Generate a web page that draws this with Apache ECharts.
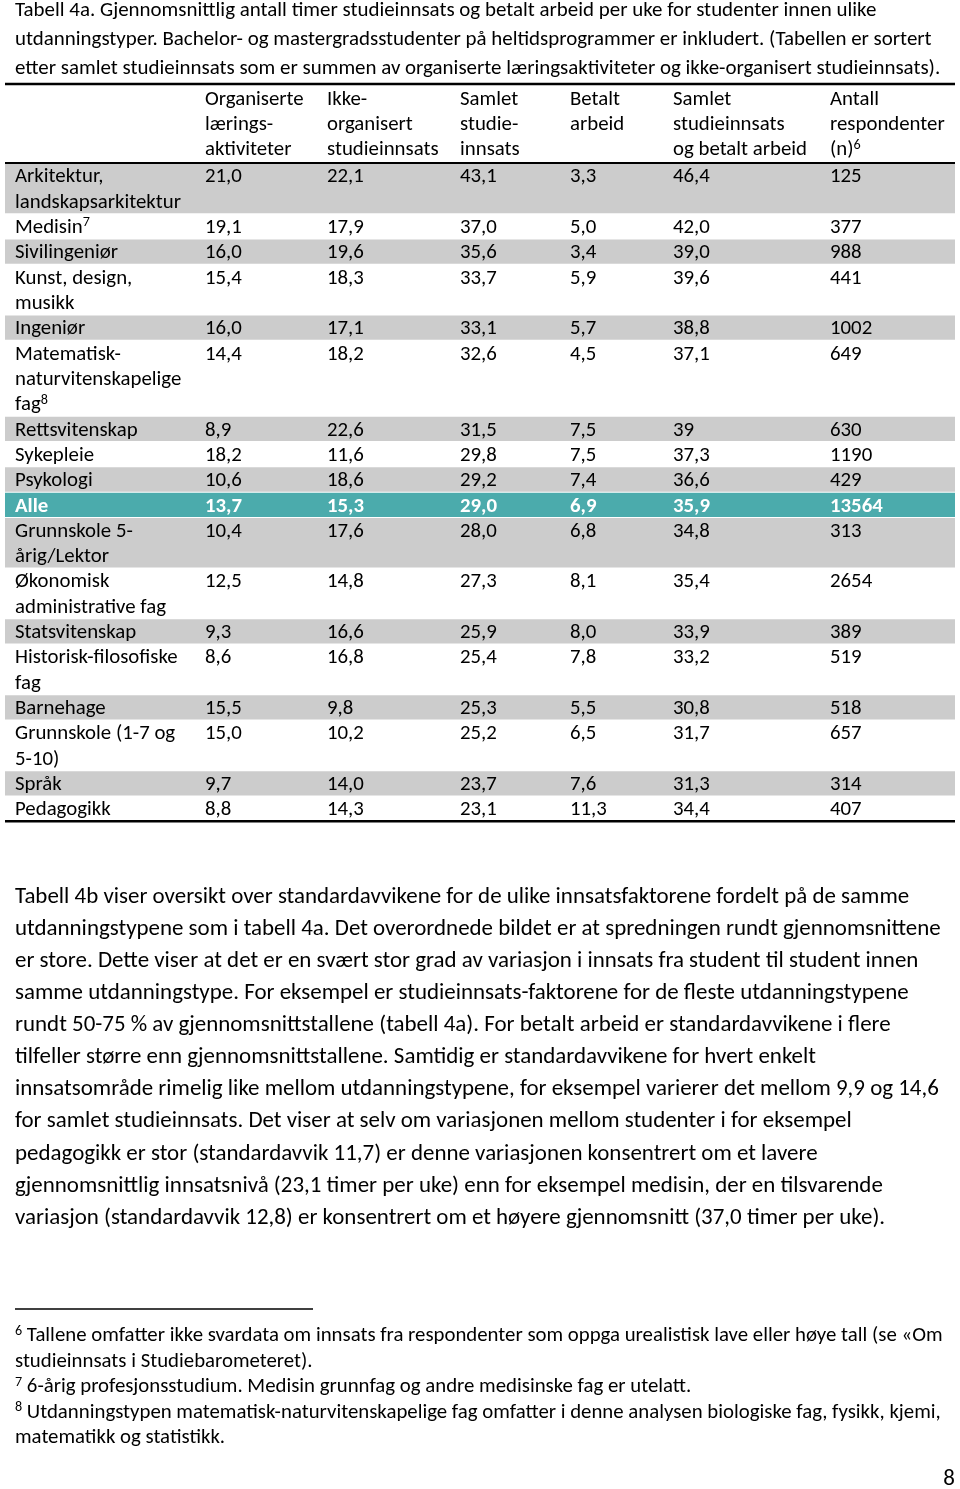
<!DOCTYPE html>
<html><head><meta charset="utf-8">
<script src="https://cdn.jsdelivr.net/npm/echarts@6.0.0/dist/echarts.min.js"></script>
<style>html,body{margin:0;padding:0;background:#fff;}#chart{width:960px;height:1489px;}</style>
</head><body><div id="chart"></div>
<script>
// ---------------- data ----------------
const captionLines = [
  'Tabell 4a. Gjennomsnittlig antall timer studieinnsats og betalt arbeid per uke for studenter innen ulike',
  'utdanningstyper. Bachelor- og mastergradsstudenter på heltidsprogrammer er inkludert. (Tabellen er sortert',
  'etter samlet studieinnsats som er summen av organiserte læringsaktiviteter og ikke-organisert studieinnsats).'
];
const columnHeaders = [
  [],
  ['Organiserte', 'lærings-', 'aktiviteter'],
  ['Ikke-', 'organisert', 'studieinnsats'],
  ['Samlet', 'studie-', 'innsats'],
  ['Betalt', 'arbeid'],
  ['Samlet', 'studieinnsats', 'og betalt arbeid'],
  ['Antall', 'respondenter', '(n){s|6}']
];
const categories = [
  ['Arkitektur,', 'landskapsarkitektur'],
  ['Medisin{s|7}'],
  ['Sivilingeniør'],
  ['Kunst, design,', 'musikk'],
  ['Ingeniør'],
  ['Matematisk-', 'naturvitenskapelige', 'fag{s|8}'],
  ['Rettsvitenskap'],
  ['Sykepleie'],
  ['Psykologi'],
  ['Alle'],
  ['Grunnskole 5-', 'årig/Lektor'],
  ['Økonomisk', 'administrative fag'],
  ['Statsvitenskap'],
  ['Historisk-filosofiske', 'fag'],
  ['Barnehage'],
  ['Grunnskole (1-7 og', '5-10)'],
  ['Språk'],
  ['Pedagogikk']
];
const organiserte   = [21.0, 19.1, 16.0, 15.4, 16.0, 14.4, 8.9, 18.2, 10.6, 13.7, 10.4, 12.5, 9.3, 8.6, 15.5, 15.0, 9.7, 8.8];
const ikkeOrganisert = [22.1, 17.9, 19.6, 18.3, 17.1, 18.2, 22.6, 11.6, 18.6, 15.3, 17.6, 14.8, 16.6, 16.8, 9.8, 10.2, 14.0, 14.3];
const samletStudie  = [43.1, 37.0, 35.6, 33.7, 33.1, 32.6, 31.5, 29.8, 29.2, 29.0, 28.0, 27.3, 25.9, 25.4, 25.3, 25.2, 23.7, 23.1];
const betaltArbeid  = [3.3, 5.0, 3.4, 5.9, 5.7, 4.5, 7.5, 7.5, 7.4, 6.9, 6.8, 8.1, 8.0, 7.8, 5.5, 6.5, 7.6, 11.3];
const samletTotal   = [46.4, 42.0, 39.0, 39.6, 38.8, 37.1, '39', 37.3, 36.6, 35.9, 34.8, 35.4, 33.9, 33.2, 30.8, 31.7, 31.3, 34.4];
const respondenter  = [125, 377, 988, 441, 1002, 649, 630, 1190, 429, 13564, 313, 2654, 389, 519, 518, 657, 314, 407];
const highlightCategory = 'Alle';

const bodyLines = [
  'Tabell 4b viser oversikt over standardavvikene for de ulike innsatsfaktorene fordelt på de samme',
  'utdanningstypene som i tabell 4a. Det overordnede bildet er at spredningen rundt gjennomsnittene',
  'er store. Dette viser at det er en svært stor grad av variasjon i innsats fra student til student innen',
  'samme utdanningstype. For eksempel er studieinnsats-faktorene for de fleste utdanningstypene',
  'rundt 50-75 % av gjennomsnittstallene (tabell 4a). For betalt arbeid er standardavvikene i flere',
  'tilfeller større enn gjennomsnittstallene. Samtidig er standardavvikene for hvert enkelt',
  'innsatsområde rimelig like mellom utdanningstypene, for eksempel varierer det mellom 9,9 og 14,6',
  'for samlet studieinnsats. Det viser at selv om variasjonen mellom studenter i for eksempel',
  'pedagogikk er stor (standardavvik 11,7) er denne variasjonen konsentrert om et lavere',
  'gjennomsnittlig innsatsnivå (23,1 timer per uke) enn for eksempel medisin, der en tilsvarende',
  'variasjon (standardavvik 12,8) er konsentrert om et høyere gjennomsnitt (37,0 timer per uke).'
];
const footnoteLines = [
  '{s|6} Tallene omfatter ikke svardata om innsats fra respondenter som oppga urealistisk lave eller høye tall (se «Om',
  'studieinnsats i Studiebarometeret).',
  '{s|7} 6-årig profesjonsstudium. Medisin grunnfag og andre medisinske fag er utelatt.',
  '{s|8} Utdanningstypen matematisk-naturvitenskapelige fag omfatter i denne analysen biologiske fag, fysikk, kjemi,',
  'matematikk og statistikk.'
];
const pageNumber = '8';

// ---------------- layout / style ----------------
const FAMILY = "Carlito, Lato, 'Open Sans', sans-serif";
const cv = document.createElement('canvas').getContext('2d');
function fit(text, target, weight) {
  cv.font = (weight || 'normal') + ' 100px ' + FAMILY;
  return 100 * target / cv.measureText(text).width;
}
const FS_TABLE = fit('landskapsarkitektur', 166);
const FS_CAP = fit(captionLines[0], 862);
const FS_BODY = fit(bodyLines[1], 926);
const FS_NOTE = fit('6-årig profesjonsstudium. Medisin grunnfag og andre medisinske fag er utelatt.', 665);

const COLX = [10, 200, 322, 455, 565, 668, 825];      // column text starts (axis units)
const TABLE_W = 950;
const LH = 25.32;                                      // px per text line
const HEADER_UNITS = 3.12;                             // header height in lines
const TEXT_DY = 1.5;                                   // baseline tweak px
const GRAY = '#cccccc', TEAL = '#4babac';

const fmt = v => typeof v === 'string' ? v : v.toFixed(1).replace('.', ',');
const rowStarts = [];
let acc = 0;
categories.forEach(c => { rowStarts.push(acc); acc += c.length; });
const TOTAL_LINES = acc;
const hiIdx = categories.findIndex(c => c[0] === highlightCategory);
const shades = categories.map((c, i) => {
  if (i === hiIdx) return TEAL;
  const k = i < hiIdx ? i : i - hiIdx - 1;
  return k % 2 === 0 ? GRAY : null;
});

function txt(t, x, y, size, weight, fill, align) {
  return {
    type: 'text', x: x, y: y, silent: true,
    style: {
      text: t, fill: fill, fontSize: size, fontFamily: FAMILY, fontWeight: weight,
      textAlign: align || 'left', textVerticalAlign: 'middle',
      align: align || 'left', verticalAlign: 'middle',
      lineHeight: Math.round(size * 1.15),
      rich: { s: { fontSize: size * 0.68, fontFamily: FAMILY, fontWeight: weight, fill: fill, verticalAlign: 'top', lineHeight: Math.round(size * 0.66) } }
    }
  };
}

function renderHeader(params, api) {
  const children = [];
  columnHeaders.forEach((lines, c) => lines.forEach((t, k) => {
    const p = api.coord([COLX[c], -HEADER_UNITS + k + 0.55]);
    children.push(txt(t, p[0], p[1] + TEXT_DY, FS_TABLE, 'normal', '#000'));
  }));
  return { type: 'group', children: children };
}

function renderRow(params, api) {
  const i = params.dataIndex;
  const start = api.value(1), n = api.value(2);
  const p0 = api.coord([0, start]), p1 = api.coord([TABLE_W, start + n]);
  const children = [];
  if (shades[i]) {
    children.push({ type: 'rect', silent: true,
      shape: { x: p0[0], y: p0[1] + 0.5, width: p1[0] - p0[0], height: p1[1] - p0[1] - 1 },
      style: { fill: shades[i] } });
  }
  const bold = i === hiIdx;
  const color = bold ? '#ffffff' : '#000000';
  const cells = [categories[i], [fmt(organiserte[i])], [fmt(ikkeOrganisert[i])], [fmt(samletStudie[i])],
    [fmt(betaltArbeid[i])], [fmt(samletTotal[i])], [String(respondenter[i])]];
  cells.forEach((lines, c) => lines.forEach((t, k) => {
    const p = api.coord([COLX[c], start + k + 0.5]);
    children.push(txt(t, p[0], p[1] + TEXT_DY, FS_TABLE, bold ? 'bold' : 'normal', color));
  }));
  return { type: 'group', children: children };
}

const rules = [[0, -HEADER_UNITS, 2.6], [0, 0, 2.2], [0, TOTAL_LINES, 2.6]];
function renderRule(params, api) {
  const y = api.value(1);
  const a = api.coord([0, y]), b = api.coord([TABLE_W, y]);
  return { type: 'line', silent: true, shape: { x1: a[0], y1: a[1], x2: b[0], y2: b[1] },
    style: { stroke: '#000', lineWidth: api.value(2) } };
}

// free text blocks
const graphicEls = [];
captionLines.forEach((t, k) => graphicEls.push(txt(t, 15, 11 + k * 29, FS_CAP, 'normal', '#000')));
bodyLines.forEach((t, k) => graphicEls.push(txt(t, 15, 897 + k * 32.1, FS_BODY, 'normal', '#000')));
footnoteLines.forEach((t, k) => graphicEls.push(txt(t, 15, 1336 + k * 25.5, FS_NOTE, 'normal', '#000')));
graphicEls.push({ type: 'line', silent: true, shape: { x1: 15, y1: 1309, x2: 313, y2: 1309 }, style: { stroke: '#000', lineWidth: 1.3 } });
graphicEls.push(txt(pageNumber, 955, 1479, FS_BODY, 'normal', '#000', 'right'));

const chart = echarts.init(document.getElementById('chart'), null, { renderer: 'canvas' });
chart.setOption({
  animation: false,
  backgroundColor: '#ffffff',
  grid: { left: 5, top: 84, width: TABLE_W, height: (HEADER_UNITS + TOTAL_LINES) * LH, containLabel: false },
  xAxis: { type: 'value', min: 0, max: TABLE_W, show: false },
  yAxis: { type: 'value', min: -HEADER_UNITS, max: TOTAL_LINES, inverse: true, show: false },
  graphic: { elements: graphicEls },
  series: [
    { type: 'custom', name: 'rows', coordinateSystem: 'cartesian2d', clip: false, silent: true,
      encode: { x: 0, y: 1 },
      data: categories.map((c, i) => [i, rowStarts[i], c.length]), renderItem: renderRow, z: 2 },
    { type: 'custom', name: 'header', coordinateSystem: 'cartesian2d', clip: false, silent: true,
      encode: { x: 0, y: 1 }, data: [[0, -HEADER_UNITS]], renderItem: renderHeader, z: 3 },
    { type: 'custom', name: 'rules', coordinateSystem: 'cartesian2d', clip: false, silent: true,
      encode: { x: 0, y: 1 }, data: rules, renderItem: renderRule, z: 4 }
  ]
});
</script>
</body></html>
